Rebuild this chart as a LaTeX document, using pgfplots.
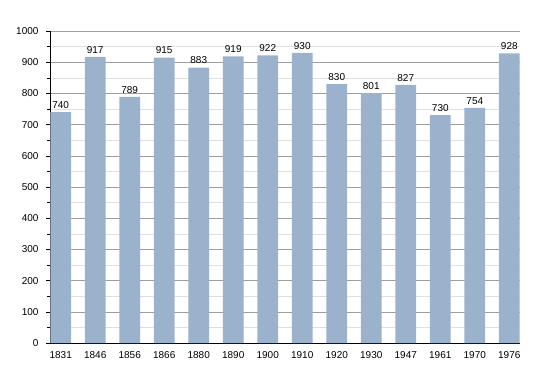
\documentclass[border=0pt]{standalone}
\usepackage{pgfplots}
\pgfplotsset{compat=1.18}
\usepackage{fontspec}
\setmainfont{Liberation Sans}
\definecolor{barc}{RGB}{155,178,205}
\begin{document}
\begin{tikzpicture}
\useasboundingbox (-50pt,-30pt) rectangle (500pt,343pt);
\begin{axis}[
  scale only axis, width=470pt, height=312pt,
  at={(0,0)}, anchor=south west,
  xmin=-0.31, xmax=13.31, ymin=0, ymax=1000,
  axis x line*=bottom, axis y line*=left,
  axis line style={black, line width=0.8pt, -},
  ybar, bar width=0.6, bar shift=0pt,
  xtick=data,
  xticklabels={1831,1846,1856,1866,1880,1890,1900,1910,1920,1930,1947,1961,1970,1976},
  x tick style={draw=none},
  ytick={0,100,...,1000},
  minor ytick={50,150,...,950},
  ymajorgrids, yminorgrids,
  major grid style={draw=black!38, line width=0.6pt},
  minor grid style={draw=black!12, line width=0.6pt},
  y tick style={black, line width=0.6pt},
  tick align=outside,
  major tick length=4pt, minor tick length=2.5pt,
  tick label style={font=\fontsize{10}{11}\selectfont},
  yticklabel style={xshift=-4pt, /pgf/number format/1000 sep={}},
  xticklabel style={yshift=-1pt},
  /pgf/number format/assume math mode=true,
  nodes near coords,
  nodes near coords style={font=\fontsize{10}{11}\selectfont, black, /pgf/number format/1000 sep={}},
  enlargelimits=false,
]
\addplot[fill=barc, draw=none] coordinates {
(0,740) (1,917) (2,789) (3,915) (4,883) (5,919) (6,922) (7,930)
(8,830) (9,801) (10,827) (11,730) (12,754) (13,928)};
\end{axis}
\end{tikzpicture}
\end{document}
